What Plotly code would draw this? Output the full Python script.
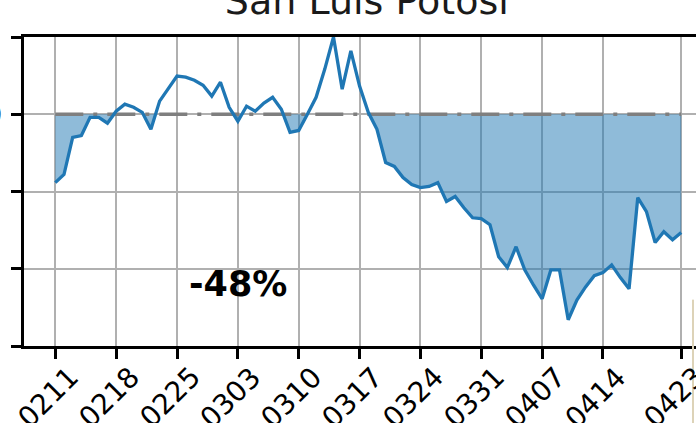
import pandas as pd
import plotly.graph_objs as go

# daily change (%) for San Luis Potosi, starting 2020-02-11
values = [-17.7, -15.6, -6.0, -5.5, -0.8, -0.8, -2.3, 0.8, 2.6, 1.8,
          0.5, -3.9, 3.4, 6.8, 9.9, 9.6, 8.8, 7.5, 4.7, 8.3,
          1.8, -1.8, 2.1, 0.8, 2.9, 4.4, 1.3, -4.7, -4.2, 0.0,
          4.4, 11.7, 20.0, 6.5, 16.4, 7.3, 0.5, -3.9, -12.5, -13.5,
          -16.4, -18.2, -19.0, -18.7, -17.7, -22.6, -21.3, -24.2, -26.8, -27.0,
          -28.6, -36.9, -39.7, -34.3, -40.3, -44.2, -47.8, -40.3, -40.3, -53.2,
          -48.1, -44.7, -41.8, -41.0, -39.0, -42.3, -45.2, -21.6, -25.2, -33.2,
          -30.4, -32.5, -30.6]
start = pd.Timestamp('2020-02-11')
dates = pd.date_range(start, periods=len(values), freq='D')

tick_dates = ['2020-02-11', '2020-02-18', '2020-02-25', '2020-03-03', '2020-03-10', '2020-03-17',
              '2020-03-24', '2020-03-31', '2020-04-07', '2020-04-14', '2020-04-23']
tick_text = ['0211', '0218', '0225', '0303', '0310', '0317', '0324', '0331', '0407', '0414', '0423']
y_ticks = [20, 0, -20, -40, -60]

title = 'San Luis Potosi'
label = '-48%'

FONT = 'DejaVu Sans'
BLUE = '#1f77b4'

# fill area where the line is below zero (with crossing points)
fx, fy = [], []
for i, v in enumerate(values):
	if i > 0:
		p = values[i-1]
		if (p < 0) != (v < 0) and p != v:
			t = (i-1) + p/(p-v)
			fx.append(start + pd.Timedelta(days=t))
			fy.append(0)
	fx.append(dates[i])
	fy.append(min(v, 0))

traces = []
traces.append(go.Scatter(x=fx, y=fy, mode='lines', fill='tozeroy',
		line=dict(width=0, color=BLUE), fillcolor='rgba(31,119,180,0.5)',
		hoverinfo='skip', showlegend=False))
traces.append(go.Scatter(x=dates, y=[0]*len(dates), mode='lines',
		line=dict(color='#7f7f7f', width=3.5, dash='28px,10px,4px,10px'),
		showlegend=False))
traces.append(go.Scatter(x=dates, y=values, mode='lines',
		line=dict(color=BLUE, width=3.3), showlegend=False))

annotations = []
for d, t in zip(tick_dates, tick_text):
	annotations.append(dict(x=d, xref='x', y=-0.040, yref='paper', text=t,
			textangle=-45, xanchor='center', yanchor='top', showarrow=False, xshift=-7,
			font=dict(family=FONT, size=28, color='black')))
annotations.append(dict(x=-0.0298, xref='paper', y=0, yref='y', text='0',
		xanchor='right', yanchor='middle', showarrow=False,
		font=dict(family=FONT, size=27, color='black')))
annotations.append(dict(x='2020-03-03', xref='x', y=-44, yref='y', text='<b>'+label+'</b>',
		xanchor='center', yanchor='middle', showarrow=False,
		font=dict(family=FONT, size=35, color='black')))

fig = go.Figure(data=traces)
fig.update_layout(
	width=696, height=423,
	margin=dict(l=24, r=0, t=37, b=77, pad=0),
	paper_bgcolor='white', plot_bgcolor='white',
	title=dict(text=title, x=0.527, xanchor='center', xref='container',
			y=0.966, yanchor='bottom', yref='container',
			font=dict(family=FONT, size=38, color='#1a1a1a')),
	xaxis=dict(range=[start - pd.Timedelta(days=3.6), start + pd.Timedelta(days=73.7)],
			tickvals=tick_dates, showticklabels=False,
			ticks='outside', ticklen=10, tickwidth=2.5, tickcolor='black',
			showgrid=True, gridcolor='#b0b0b0', gridwidth=2,
			showline=True, linecolor='black', linewidth=2.5, mirror=True,
			zeroline=False),
	yaxis=dict(range=[-60, 20], tickvals=y_ticks, showticklabels=False,
			ticks='outside', ticklen=10, tickwidth=2.5, tickcolor='black',
			showgrid=True, gridcolor='#b0b0b0', gridwidth=2,
			showline=True, linecolor='black', linewidth=2.5,
			zeroline=False),
	annotations=annotations,
	shapes=[dict(type='line', xref='paper', yref='paper', x0=0.9955, x1=0.9955, y0=0.15, y1=-0.25,
			line=dict(color='#ddd3b8', width=2))],
	showlegend=False,
)
fig.write_html("out.html", config={'displayModeBar': False},
		post_script="document.body.style.margin='0';")
